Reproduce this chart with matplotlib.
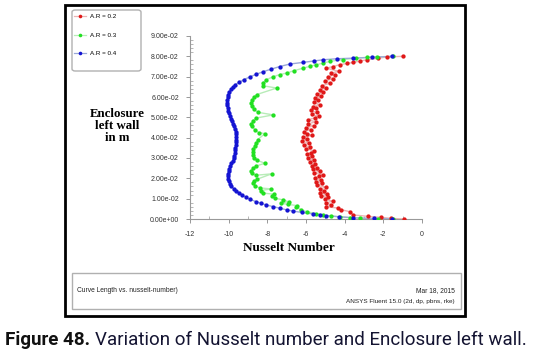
import matplotlib
matplotlib.use("Agg")
import matplotlib.pyplot as plt
from matplotlib.patches import Rectangle, FancyBboxPatch
from matplotlib.ticker import MultipleLocator, FormatStrFormatter

# ---------------- data ----------------
ar02_x = [-0.95, -1.6, -2.1, -2.8, -3.56, -3.73, -4.2, -4.35, -4.94, -4.7, -4.95, -4.6, -5.0, -4.85,
          -5.2, -4.9, -5.3, -5.05, -5.28, -4.95, -5.45, -5.15, -5.5, -5.2, -5.55, -5.35, -5.1, -5.6,
          -5.3, -5.65, -5.45, -5.7, -5.55, -5.8, -5.6, -5.9, -5.7, -5.95, -5.75, -5.6, -6.0, -5.8,
          -6.1, -5.85, -6.2, -5.95, -6.15, -5.7, -5.95, -6.1, -5.75, -6.0, -5.6, -5.9, -5.5, -5.89,
          -5.55, -5.35, -5.7, -5.45, -5.75, -5.5, -5.65, -5.3, -5.6, -5.4, -5.55, -5.2, -5.45, -5.1,
          -5.3, -4.95, -5.15, -4.77, -5.0, -4.6, -4.85, -4.5, -4.7, -4.3, -4.94, -4.6, -4.25, -3.9,
          -3.55, -3.2, -2.86, -2.3, -1.83, -1.0]
ar02_y = [0.0000, 0.0003, 0.0008, 0.0013, 0.0020, 0.0036, 0.0046, 0.0054, 0.0060, 0.0070, 0.0080,
          0.0088, 0.0096, 0.0106, 0.0114, 0.0122, 0.0130, 0.0140, 0.0148, 0.0157, 0.0166, 0.0175,
          0.0184, 0.0192, 0.0201, 0.0210, 0.0218, 0.0226, 0.0235, 0.0244, 0.0253, 0.0262, 0.0272,
          0.0281, 0.0290, 0.0299, 0.0308, 0.0318, 0.0327, 0.0336, 0.0345, 0.0354, 0.0364, 0.0373,
          0.0383, 0.0392, 0.0402, 0.0411, 0.0420, 0.0430, 0.0440, 0.0449, 0.0458, 0.0468, 0.0478,
          0.0488, 0.0497, 0.0505, 0.0514, 0.0524, 0.0534, 0.0544, 0.0553, 0.0563, 0.0573, 0.0583,
          0.0594, 0.0603, 0.0613, 0.0623, 0.0635, 0.0645, 0.0656, 0.0668, 0.0680, 0.0690, 0.0700,
          0.0710, 0.0718, 0.0726, 0.0742, 0.0750, 0.0759, 0.0765, 0.0770, 0.0777, 0.0783, 0.0790,
          0.0797, 0.0800]

ar03_x = [-1.48, -2.3, -3.2, -3.7, -4.25, -4.7, -5.1, -5.5, -5.97, -6.25, -6.5, -6.45, -6.95, -7.27,
          -6.9, -7.18, -7.6, -7.75, -7.65, -8.2, -8.35, -7.8, -8.4, -8.62, -8.73, -8.7, -8.55, -7.78,
          -8.6, -8.78, -8.82, -8.75, -8.6, -8.13, -8.55, -8.68, -8.74, -8.75, -8.72, -8.66, -8.58,
          -8.5, -8.13, -8.45, -8.65, -8.8, -8.82, -8.75, -8.6, -7.7, -8.5, -8.7, -8.8, -8.83, -8.8,
          -8.7, -8.55, -7.52, -8.2, -8.25, -8.05, -7.7, -7.36, -7.0, -6.6, -6.15, -5.8, -5.46, -5.1,
          -4.77, -4.1, -3.39, -2.85, -2.35, -1.48]
ar03_y = [0.0000, 0.0001, 0.0003, 0.0007, 0.0011, 0.0015, 0.0020, 0.0027, 0.0036, 0.0046, 0.0057,
          0.0066, 0.0072, 0.0077, 0.0085, 0.0094, 0.0102, 0.0113, 0.0122, 0.0127, 0.0140, 0.0148,
          0.0153, 0.0163, 0.0176, 0.0186, 0.0195, 0.0222, 0.0215, 0.0226, 0.0238, 0.0250, 0.0260,
          0.0274, 0.0290, 0.0300, 0.0315, 0.0330, 0.0345, 0.0360, 0.0375, 0.0390, 0.0420, 0.0425,
          0.0440, 0.0455, 0.0468, 0.0482, 0.0496, 0.0512, 0.0525, 0.0540, 0.0555, 0.0570, 0.0586,
          0.0600, 0.0612, 0.0644, 0.0655, 0.0668, 0.0685, 0.0700, 0.0710, 0.0718, 0.0730, 0.0742,
          0.0751, 0.0759, 0.0767, 0.0775, 0.0784, 0.0791, 0.0795, 0.0797, 0.0800]

ar04_x = [-1.55, -2.5, -3.56, -4.3, -4.94, -5.3, -5.65, -6.2, -6.68, -7.0, -7.36, -7.7, -8.05, -8.35,
          -8.6, -8.9, -9.1, -9.3, -9.45, -9.6, -9.75, -9.86, -9.93, -9.99, -10.03, -10.05, -10.04,
          -10.0, -9.96, -9.92, -9.86, -9.8, -9.75, -9.71, -9.68, -9.66, -9.65, -9.64, -9.63, -9.62,
          -9.61, -9.62, -9.64, -9.67, -9.71, -9.76, -9.82, -9.88, -9.94, -9.99, -10.03, -10.06,
          -10.08, -10.09, -10.08, -10.06, -10.03, -9.98, -9.9, -9.8, -9.66, -9.45, -9.2, -8.9, -8.57,
          -8.2, -7.8, -7.35, -6.84, -6.17, -5.6, -5.13, -4.42, -3.56, -2.6, -1.57]
ar04_y = [0.0000, 0.0003, 0.0006, 0.0011, 0.0016, 0.0020, 0.0025, 0.0032, 0.0039, 0.0045, 0.0053,
          0.0061, 0.0069, 0.0078, 0.0086, 0.0097, 0.0107, 0.0118, 0.0128, 0.0138, 0.0150, 0.0160,
          0.0172, 0.0185, 0.0198, 0.0210, 0.0222, 0.0235, 0.0248, 0.0260, 0.0273, 0.0286, 0.0299,
          0.0312, 0.0325, 0.0338, 0.0351, 0.0364, 0.0377, 0.0390, 0.0403, 0.0416, 0.0429, 0.0442,
          0.0455, 0.0468, 0.0481, 0.0494, 0.0507, 0.0520, 0.0533, 0.0546, 0.0559, 0.0572, 0.0585,
          0.0598, 0.0611, 0.0624, 0.0637, 0.0649, 0.0661, 0.0673, 0.0686, 0.0699, 0.0712, 0.0725,
          0.0737, 0.0750, 0.0762, 0.0770, 0.0777, 0.0783, 0.0788, 0.0791, 0.0795, 0.0800]

series_labels = ["A.R = 0.2", "A.R = 0.3", "A.R = 0.4"]
x_ticks = [-12, -10, -8, -6, -4, -2, 0]
y_max = 0.09

# ---------------- figure ----------------
W, H = 534, 352
fig = plt.figure(figsize=(W / 100, H / 100), dpi=100)
fig.patch.set_facecolor("white")

def fx(px):
    return px / W

def fy(py):
    return 1 - py / H

ax_l, ax_r, ax_t, ax_b = 190, 422, 36, 219
ax = fig.add_axes([fx(ax_l), fy(ax_b), (ax_r - ax_l) / W, (ax_b - ax_t) / H])
ax.set_xlim(-12, 0)
ax.set_ylim(0, y_max)
ax.patch.set_alpha(0)
for s in ["top", "right"]:
    ax.spines[s].set_visible(False)
for s in ["left", "bottom"]:
    ax.spines[s].set_color("#999999")
    ax.spines[s].set_linewidth(0.8)

styles = [
    (ar02_x, ar02_y, "#e01818", "#eab4b4"),
    (ar03_x, ar03_y, "#22e022", "#b8ecb8"),
    (ar04_x, ar04_y, "#1414d2", "#9aa8d8"),
]
handles = []
for (xs, ys, mc, lc), lab in zip(styles, series_labels):
    ax.plot(xs, ys, "-", color=lc, lw=1.0, zorder=2)
    ax.plot(xs, ys, "o", color=mc, ms=3.1, mec=mc, mew=0, zorder=3)
    h, = ax.plot([], [], "-", color=lc, lw=0.9, marker="o", mfc=mc, mec=mc, ms=2.6, mew=0)
    handles.append(h)

ax.set_xticks(x_ticks)
ax.xaxis.set_minor_locator(MultipleLocator(1))
ax.yaxis.set_major_locator(MultipleLocator(0.01))
ax.yaxis.set_minor_locator(MultipleLocator(0.002))
ax.yaxis.set_major_formatter(FormatStrFormatter("%.2e"))
ax.xaxis.set_major_formatter(FormatStrFormatter("%d"))
ax.tick_params(axis="both", which="major", length=3, width=0.6, color="#888888",
               labelsize=5, labelcolor="#333333")
ax.tick_params(axis="both", which="minor", length=2, width=0.5, color="#999999",
               direction="in")
ax.tick_params(axis="y", which="major", pad=5)
ax.tick_params(axis="x", which="major", pad=6)
for lbl in ax.get_xticklabels() + ax.get_yticklabels():
    lbl.set_family("Liberation Sans")

# axis titles
fig.text(fx(289), fy(248), "Nusselt Number", family="Liberation Serif", weight="bold",
         fontsize=9.5, ha="center", va="center")
fig.text(fx(117), fy(126), "Enclosure\nleft wall\nin m", family="Liberation Serif",
         weight="bold", fontsize=9.3, ha="center", va="center", multialignment="center",
         linespacing=0.95)

# legend
leg_box = FancyBboxPatch((fx(72), fy(71)), fx(141) - fx(72), fy(10) - fy(71),
                         boxstyle="round,pad=0,rounding_size=0.006", transform=fig.transFigure,
                         facecolor="white", edgecolor="#b0b0b0", lw=1.0)
fig.patches.append(leg_box)
leg = fig.legend(handles, series_labels, loc="upper left",
                 bbox_to_anchor=(fx(72), fy(12)), frameon=False,
                 prop={"family": "Liberation Sans", "size": 4.5},
                 handlelength=1.9, handletextpad=0.7, labelspacing=2.1,
                 borderpad=0.3, borderaxespad=0)

# outer black frame
fig.patches.append(Rectangle((fx(65), fy(316)), fx(465) - fx(65), fy(5) - fy(316),
                             transform=fig.transFigure, fill=False, edgecolor="black", lw=2.0))
# info box
fig.patches.append(Rectangle((fx(72), fy(309)), fx(461) - fx(72), fy(273) - fy(309),
                             transform=fig.transFigure, fill=False, edgecolor="#b0b0b0", lw=1.0))
fig.text(fx(77), fy(291), "Curve Length vs. nusselt-number)", family="Liberation Sans",
         fontsize=4.8, ha="left", va="center", color="#222222")
fig.text(fx(455), fy(291), "Mar 18, 2015", family="Liberation Sans",
         fontsize=4.8, ha="right", va="center", color="#222222")
fig.text(fx(455), fy(301), "ANSYS Fluent 15.0 (2d, dp, pbns, rke)", family="Liberation Sans",
         fontsize=4.6, ha="right", va="center", color="#222222")

# caption
cap_size = 13.5
cap1 = fig.text(fx(5), fy(345), "Figure 48.", family="Roboto", weight="bold",
                fontsize=cap_size, ha="left", va="baseline", color="#111111")
fig.canvas.draw()
r = fig.canvas.get_renderer()
bb = cap1.get_window_extent(renderer=r)
fig.text(bb.x1 / W + fx(5), fy(345),
         "Variation of Nusselt number and Enclosure left wall.", family="Roboto",
         fontsize=cap_size, ha="left", va="baseline", color="#141432")

fig.savefig("out.png", dpi=100, facecolor="white")
